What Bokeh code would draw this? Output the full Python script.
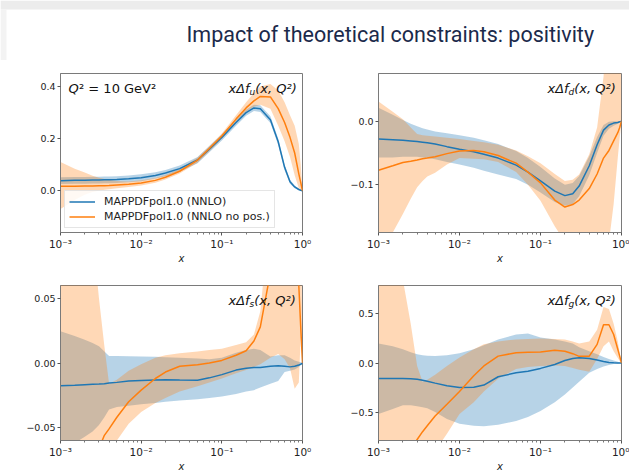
from bokeh.plotting import figure
from bokeh.models import (FixedTicker, Label, Legend, LegendItem, Range1d,
                          CustomJSTickFormatter, BoxAnnotation)
from bokeh.layouts import column, row
from bokeh.embed import file_html
from bokeh.resources import INLINE

# ---------------- data ----------------
x = [1e-3, 1.5e-3, 2e-3, 2.5e-3, 3e-3, 3.5e-3, 4e-3, 5e-3, 7e-3, 1e-2,
     1.5e-2, 2e-2, 3e-2, 5e-2, 7e-2, 0.1, 0.15, 0.2, 0.25, 0.3,
     0.4, 0.5, 0.6, 0.7, 0.8, 0.9, 0.95, 1.0]

# x Δf_u
u_pol = [0.039, 0.040, 0.040, 0.041, 0.041, 0.042, 0.042, 0.043, 0.046, 0.050,
         0.059, 0.068, 0.085, 0.118, 0.160, 0.205, 0.262, 0.300, 0.318, 0.315,
         0.273, 0.188, 0.090, 0.035, 0.015, 0.005, 0.002, 0.0]
u_pol_lo = [0.026, 0.027, 0.027, 0.028, 0.028, 0.029, 0.029, 0.030, 0.033, 0.037,
            0.047, 0.056, 0.073, 0.106, 0.148, 0.193, 0.250, 0.288, 0.306, 0.302,
            0.260, 0.176, 0.079, 0.027, 0.010, 0.002, 0.001, 0.0]
u_pol_hi = [0.052, 0.053, 0.053, 0.054, 0.054, 0.055, 0.055, 0.056, 0.059, 0.063,
            0.071, 0.080, 0.097, 0.130, 0.172, 0.217, 0.274, 0.312, 0.330, 0.328,
            0.286, 0.200, 0.101, 0.043, 0.020, 0.008, 0.003, 0.0]
u_nop = [0.017, 0.017, 0.018, 0.018, 0.019, 0.019, 0.020, 0.022, 0.025, 0.030,
         0.040, 0.052, 0.075, 0.118, 0.162, 0.210, 0.275, 0.318, 0.345, 0.362,
         0.360, 0.315, 0.262, 0.205, 0.145, 0.065, 0.032, 0.0]
u_nop_lo = [-0.070, -0.035, -0.015, -0.005, 0.000, 0.004, 0.006, 0.010, 0.015, 0.020,
            0.031, 0.043, 0.066, 0.108, 0.152, 0.200, 0.263, 0.303, 0.322, 0.330,
            0.315, 0.250, 0.190, 0.130, 0.060, 0.010, 0.000, 0.0]
u_nop_hi = [0.110, 0.085, 0.070, 0.058, 0.050, 0.045, 0.042, 0.038, 0.036, 0.040,
            0.049, 0.061, 0.084, 0.128, 0.172, 0.220, 0.290, 0.340, 0.375, 0.400,
            0.410, 0.385, 0.340, 0.290, 0.250, 0.180, 0.100, 0.0]

# x Δf_d
d_pol = [-0.028, -0.029, -0.030, -0.031, -0.032, -0.033, -0.034, -0.036, -0.040, -0.044,
         -0.048, -0.052, -0.058, -0.069, -0.080, -0.094, -0.110, -0.117, -0.114, -0.102,
         -0.070, -0.037, -0.014, -0.006, -0.003, -0.002, -0.001, 0.0]
d_pol_lo = [-0.057, -0.057, -0.056, -0.056, -0.056, -0.057, -0.058, -0.060, -0.064, -0.068,
            -0.073, -0.078, -0.084, -0.091, -0.100, -0.112, -0.127, -0.133, -0.130, -0.118,
            -0.085, -0.050, -0.023, -0.012, -0.007, -0.004, -0.002, 0.0]
d_pol_hi = [0.021, 0.010, 0.002, -0.004, -0.008, -0.011, -0.013, -0.016, -0.019, -0.022,
            -0.026, -0.030, -0.036, -0.047, -0.058, -0.072, -0.090, -0.100, -0.097, -0.086,
            -0.055, -0.025, -0.006, -0.001, 0.0, 0.0, 0.0, 0.0]
d_nop = [-0.077, -0.070, -0.065, -0.063, -0.061, -0.059, -0.058, -0.056, -0.051, -0.047,
         -0.046, -0.048, -0.054, -0.066, -0.080, -0.097, -0.124, -0.135, -0.131, -0.124,
         -0.106, -0.083, -0.058, -0.046, -0.031, -0.018, -0.010, 0.0]
d_nop_lo = [-0.210, -0.175, -0.146, -0.122, -0.104, -0.094, -0.087, -0.081, -0.068, -0.058,
            -0.059, -0.060, -0.064, -0.080, -0.100, -0.125, -0.165, -0.190, -0.200, -0.210,
            -0.220, -0.220, -0.220, -0.190, -0.130, -0.057, -0.026, 0.0]
d_nop_hi = [0.031, 0.015, 0.003, -0.010, -0.020, -0.022, -0.023, -0.024, -0.026, -0.028,
            -0.031, -0.033, -0.037, -0.046, -0.055, -0.066, -0.083, -0.094, -0.092, -0.084,
            -0.052, -0.010, 0.070, 0.200, 0.280, 0.300, 0.300, 0.0]

# x Δf_s
s_pol = [-0.0176, -0.0172, -0.0168, -0.0165, -0.0163, -0.0160, -0.0155, -0.0150, -0.0140, -0.0135,
         -0.0132, -0.0130, -0.0132, -0.0133, -0.0115, -0.0090, -0.0055, -0.0040, -0.0035, -0.0035,
         -0.0025, -0.0022, -0.0025, -0.0030, -0.0025, -0.0015, -0.0010, 0.0]
s_pol_lo = [-0.070, -0.062, -0.057, -0.053, -0.048, -0.042, -0.036, -0.034, -0.033, -0.032,
            -0.031, -0.030, -0.029, -0.028, -0.027, -0.026, -0.024, -0.022, -0.021, -0.019,
            -0.016, -0.014, -0.007, -0.006, -0.005, -0.003, -0.0015, 0.0]
s_pol_hi = [0.0246, 0.0210, 0.0180, 0.0155, 0.0130, 0.0090, 0.0055, 0.0055, 0.0052, 0.0050,
            0.0048, 0.0045, 0.0040, 0.0035, 0.0030, 0.0040, 0.0080, 0.0100, 0.0110, 0.0100,
            0.0050, 0.0060, 0.0060, 0.0040, 0.0020, 0.0010, 0.0005, 0.0]
s_nop = [-0.150, -0.110, -0.090, -0.075, -0.066, -0.056, -0.051, -0.042, -0.030, -0.021,
         -0.012, -0.007, -0.0025, -0.0013, 0.0000, 0.0020, 0.0060, 0.0095, 0.0170, 0.0280,
         0.0700, 0.0900, 0.1000, 0.1100, 0.1000, 0.0600, 0.0280, 0.0]
s_nop_lo = [-0.200, -0.200, -0.200, -0.200, -0.150, -0.120, -0.090, -0.060, -0.047, -0.038,
            -0.031, -0.027, -0.022, -0.018, -0.015, -0.012, -0.008, -0.0055, -0.003, -0.001,
            0.004, 0.007, 0.003, -0.004, -0.020, -0.015, 0.020, 0.0]
s_nop_hi = [0.120, 0.120, 0.120, 0.100, 0.050, 0.013, -0.016, -0.013, -0.006, -0.001,
            0.004, 0.006, 0.0075, 0.009, 0.010, 0.011, 0.014, 0.016, 0.022, 0.040,
            0.120, 0.150, 0.200, 0.200, 0.200, 0.200, 0.150, 0.0]

# x Δf_g
g_pol = [-0.158, -0.158, -0.158, -0.160, -0.165, -0.175, -0.185, -0.205, -0.232, -0.250,
         -0.248, -0.225, -0.140, -0.100, -0.085, -0.055, -0.015, 0.025, 0.045, 0.053,
         0.045, 0.030, 0.015, 0.005, 0.002, 0.0, 0.0, 0.0]
g_pol_lo = [-0.520, -0.470, -0.430, -0.430, -0.440, -0.450, -0.460, -0.500, -0.570, -0.620,
            -0.640, -0.645, -0.630, -0.590, -0.550, -0.490, -0.400, -0.320, -0.250, -0.190,
            -0.100, -0.060, -0.035, -0.020, -0.010, -0.004, -0.002, 0.0]
g_pol_hi = [0.200, 0.170, 0.140, 0.110, 0.090, 0.080, 0.075, 0.072, 0.080, 0.100,
            0.140, 0.180, 0.240, 0.290, 0.300, 0.260, 0.240, 0.220, 0.200, 0.160,
            0.120, 0.090, 0.060, 0.040, 0.025, 0.012, 0.005, 0.0]
g_nop = [-1.400, -1.150, -1.000, -0.880, -0.780, -0.700, -0.640, -0.540, -0.420, -0.290,
         -0.130, -0.030, 0.070, 0.105, 0.110, 0.112, 0.130, 0.120, 0.095, 0.068,
         0.070, 0.190, 0.390, 0.390, 0.290, 0.140, 0.070, 0.0]
g_nop_lo = [-3.000, -2.500, -2.000, -1.600, -1.400, -1.200, -1.100, -0.900, -0.720, -0.520,
            -0.400, -0.290, -0.160, -0.060, -0.040, -0.030, -0.025, -0.030, -0.050, -0.070,
            -0.090, 0.040, 0.170, 0.220, 0.120, 0.050, 0.020, 0.0]
g_nop_hi = [2.000, 1.500, 0.850, 0.400, -0.030, -0.190, -0.170, -0.120, -0.030, 0.056,
            0.140, 0.190, 0.220, 0.240, 0.245, 0.250, 0.245, 0.240, 0.220, 0.200,
            0.220, 0.340, 0.570, 0.550, 0.400, 0.220, 0.100, 0.0]

x_ticks = [1e-3, 1e-2, 1e-1, 1.0]
x_minor = [m * 10.0 ** e for e in (-3, -2, -1) for m in range(2, 10)]

legend_labels = ["MAPPDFpol1.0 (NNLO)", "MAPPDFpol1.0 (NNLO no pos.)"]
title_text = "Impact of theoretical constraints: positivity"

BLUE = "#1f77b4"
ORANGE = "#ff7f0e"
TICKFONT = "DejaVu Sans"
TITLEFONT = "Roboto"

xfmt = CustomJSTickFormatter(code="""
const e = Math.round(Math.log10(tick));
const sup = {"-": "\u207b", "0": "\u2070", "1": "\u00b9", "2": "\u00b2", "3": "\u00b3"};
return "10" + String(e).split("").map(c => sup[c]).join("");
""")


def yfmt(dec):
    return CustomJSTickFormatter(code=f"""
const s = Math.abs(tick).toFixed({dec});
return (tick < -1e-12 ? "\u2212" : "") + s;
""")


def panel(width, height, bl, br, bt, bb, yr, yticks, ydec):
    p = figure(width=width, height=height, x_axis_type="log",
               x_range=Range1d(1e-3, 1.0), y_range=Range1d(*yr),
               output_backend="svg", toolbar_location=None,
               min_border_left=bl, min_border_right=br,
               min_border_top=bt, min_border_bottom=bb)
    p.grid.visible = False
    p.outline_line_color = "#7a7a7a"
    p.outline_line_width = 1
    p.xaxis.ticker = FixedTicker(ticks=x_ticks, minor_ticks=x_minor)
    p.xaxis.formatter = xfmt
    p.yaxis.ticker = FixedTicker(ticks=yticks, minor_ticks=[])
    p.yaxis.formatter = yfmt(ydec)
    for ax in (p.xaxis[0], p.yaxis[0]):
        ax.axis_line_color = "#7a7a7a"
        ax.major_tick_line_color = "#555555"
        ax.minor_tick_line_color = "#777777"
        ax.major_tick_in = 0
        ax.major_tick_out = 3
        ax.minor_tick_in = 0
        ax.minor_tick_out = 2
        ax.major_label_text_font = TICKFONT
        ax.major_label_text_color = "#222222"
        ax.major_label_standoff = 2
    p.yaxis.major_label_text_font_size = "9.5px"
    p.xaxis.major_label_text_font_size = "10.5px"
    p.xaxis.axis_label = "x"
    p.xaxis.axis_label_text_font = TICKFONT
    p.xaxis.axis_label_text_font_style = "italic"
    p.xaxis.axis_label_text_font_size = "10px"
    p.xaxis.axis_label_text_color = "#222222"
    p.xaxis.axis_label_standoff = 0
    return p


def draw(p, c1, lo1, hi1, c2, lo2, hi2):
    p.varea(x=x, y1=lo1, y2=hi1, fill_color=BLUE, fill_alpha=0.32)
    p.varea(x=x, y1=lo2, y2=hi2, fill_color=ORANGE, fill_alpha=0.3)
    l1 = p.line(x=x, y=c1, line_color=BLUE, line_width=1.5)
    l2 = p.line(x=x, y=c2, line_color=ORANGE, line_width=1.5)
    return l1, l2


def flabel(p, yr, sub, sub_w):
    yt = yr[0] + 0.905 * (yr[1] - yr[0])
    base = -74
    kw = dict(text_font=TICKFONT, text_font_style="italic", text_color="#111111",
              text_baseline="middle", text_align="left")
    p.add_layout(Label(x=1.0, y=yt, x_offset=base, text="x\u0394f",
                       text_font_size="13px", **kw))
    p.add_layout(Label(x=1.0, y=yt, x_offset=base + 21, y_offset=-3.5, text=sub,
                       text_font_size="9px", **kw))
    p.add_layout(Label(x=1.0, y=yt, x_offset=base + 21 + sub_w, text="(x, Q\u00b2)",
                       text_font_size="13px", **kw))


# ---------------- title ----------------
t = figure(width=629, height=60, x_range=Range1d(0, 629), y_range=Range1d(60, 0),
           output_backend="svg", toolbar_location=None, min_border=0,
           x_axis_location=None, y_axis_location=None)
t.grid.visible = False
t.outline_line_color = None
t.add_layout(BoxAnnotation(top=0, bottom=9, fill_color="#ececec", fill_alpha=1,
                           line_color=None))
t.add_layout(BoxAnnotation(left=0, right=6, top=9, bottom=60, fill_color="#f3f3f3",
                           fill_alpha=1, line_color=None))
t.add_layout(Label(x=186, y=34, text=title_text, text_font=TITLEFONT,
                   text_font_size="21.5px", text_color="#1b2a4b",
                   text_baseline="middle", text_align="left"))

# ---------------- panels ----------------
yr1 = (-0.16, 0.45)
p1 = panel(320, 210, 60, 18, 13, 37, yr1, [0.0, 0.2, 0.4], 1)
l1, l2 = draw(p1, u_pol, u_pol_lo, u_pol_hi, u_nop, u_nop_lo, u_nop_hi)
flabel(p1, yr1, "u", 5.7)
ytq = yr1[0] + 0.905 * (yr1[1] - yr1[0])
p1.add_layout(Label(x=1e-3, y=ytq, x_offset=8, text="Q", text_font=TICKFONT,
                    text_font_style="italic", text_font_size="13px",
                    text_color="#111111", text_baseline="middle"))
p1.add_layout(Label(x=1e-3, y=ytq, x_offset=18.5, text="\u00b2 = 10 GeV\u00b2",
                    text_font=TICKFONT, text_font_size="13px",
                    text_color="#111111", text_baseline="middle"))
pb = p1.line(x=[], y=[], line_color=BLUE, line_alpha=0.32, line_width=6)
po = p1.line(x=[], y=[], line_color=ORANGE, line_alpha=0.3, line_width=6)
leg = Legend(items=[LegendItem(label=legend_labels[0], renderers=[pb, l1]),
                    LegendItem(label=legend_labels[1], renderers=[po, l2])],
             location="bottom_left", margin=4, padding=4, spacing=2,
             glyph_width=26, glyph_height=13, label_height=13, label_standoff=9,
             label_text_font=TICKFONT, label_text_font_size="11px",
             label_text_color="#222222",
             border_line_color="#cccccc", background_fill_alpha=0.85)
p1.add_layout(leg)

yr2 = (-0.175, 0.075)
p2 = panel(309, 210, 58, 8, 12, 38, yr2, [-0.1, 0.0], 1)
draw(p2, d_pol, d_pol_lo, d_pol_hi, d_nop, d_nop_lo, d_nop_hi)
flabel(p2, yr2, "d", 5.7)

yr3 = (-0.06, 0.06)
p3 = panel(320, 204, 60, 18, 15, 31, yr3, [-0.05, 0.0, 0.05], 2)
draw(p3, s_pol, s_pol_lo, s_pol_hi, s_nop, s_nop_lo, s_nop_hi)
flabel(p3, yr3, "s", 4.7)

yr4 = (-0.79, 0.79)
p4 = panel(309, 204, 58, 8, 15, 31, yr4, [-0.5, 0.0, 0.5], 1)
draw(p4, g_pol, g_pol_lo, g_pol_hi, g_nop, g_nop_lo, g_nop_hi)
flabel(p4, yr4, "g", 5.7)

layout = column(t, row(p1, p2), row(p3, p4))
open("out.html", "w").write(file_html(layout, INLINE))
